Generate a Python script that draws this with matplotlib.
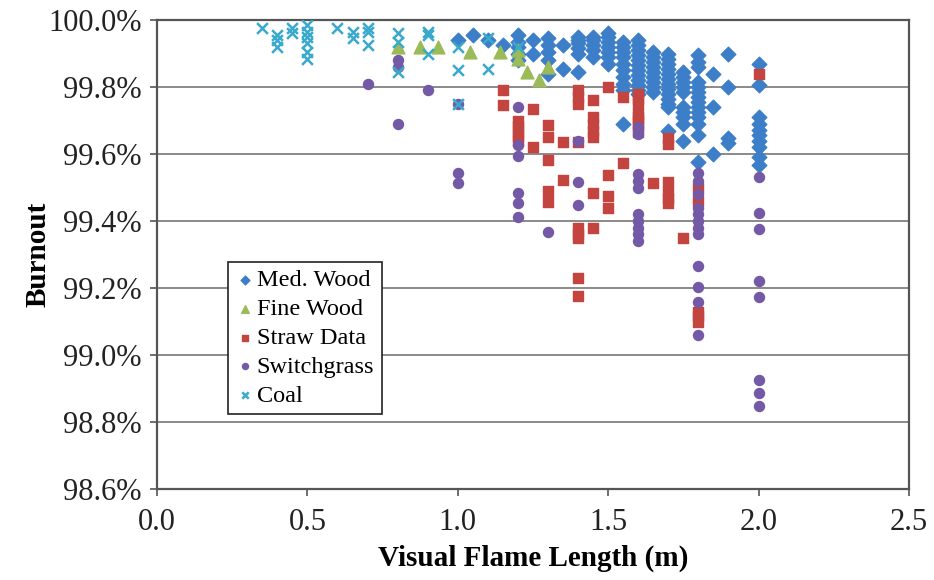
import matplotlib
matplotlib.use("Agg")
import matplotlib.pyplot as plt
from matplotlib.ticker import FuncFormatter, MultipleLocator

plt.rcParams['font.family'] = ['Liberation Serif', 'DejaVu Serif']

# flame length columns and burnout values (%)
med_wood_x = [1.0, 1.05, 1.1, 1.15, 1.2, 1.25, 1.3, 1.35, 1.4, 1.45, 1.5, 1.55,
              1.6, 1.65, 1.7, 1.75, 1.8, 1.85, 1.9, 2.0]
med_wood_y = [
    [99.94],
    [99.955],
    [99.94],
    [99.925],
    [99.955, 99.935, 99.92, 99.90, 99.88],
    [99.94, 99.90],
    [99.945, 99.925, 99.905, 99.88, 99.84],
    [99.925, 99.855],
    [99.95, 99.94, 99.93, 99.915, 99.90, 99.845],
    [99.95, 99.94, 99.925, 99.91, 99.89],
    [99.96, 99.95, 99.935, 99.92, 99.905, 99.89, 99.87],
    [99.935, 99.92, 99.905, 99.89, 99.87, 99.85, 99.83, 99.81, 99.79, 99.69],
    [99.94, 99.925, 99.91, 99.895, 99.88, 99.865, 99.85, 99.835, 99.82, 99.805, 99.79, 99.78],
    [99.905, 99.89, 99.875, 99.86, 99.845, 99.83, 99.815, 99.80, 99.785],
    [99.90, 99.885, 99.87, 99.855, 99.84, 99.825, 99.81, 99.795, 99.78, 99.765, 99.75, 99.74, 99.67],
    [99.845, 99.83, 99.815, 99.80, 99.785, 99.74, 99.725, 99.71, 99.69, 99.64],
    [99.895, 99.875, 99.86, 99.815, 99.80, 99.785, 99.77, 99.755, 99.74, 99.725, 99.71, 99.69, 99.657, 99.576],
    [99.84, 99.74, 99.60],
    [99.90, 99.80, 99.647, 99.633],
    [99.87, 99.805, 99.71, 99.69, 99.672, 99.657, 99.64, 99.62, 99.59, 99.567],
]

fine_wood_x = [0.8, 0.875, 0.935, 1.04, 1.14, 1.2, 1.23, 1.27, 1.3]
fine_wood_y = [[99.92], [99.92], [99.92], [99.905], [99.905], [99.91, 99.885],
               [99.845], [99.82], [99.86]]

straw_x = [1.15, 1.2, 1.25, 1.3, 1.35, 1.4, 1.45, 1.5, 1.55, 1.6, 1.65, 1.7, 1.75, 1.8, 2.0]
straw_y = [
    [99.79, 99.745],
    [99.70, 99.685, 99.67, 99.655, 99.64],
    [99.735, 99.62],
    [99.687, 99.65, 99.582, 99.49, 99.456],
    [99.636, 99.522],
    [99.79, 99.77, 99.75, 99.636, 99.38, 99.36, 99.35, 99.23, 99.176],
    [99.76, 99.71, 99.69, 99.67, 99.65, 99.484, 99.38],
    [99.80, 99.537, 99.475, 99.44],
    [99.77, 99.573],
    [99.78, 99.765, 99.75, 99.72, 99.71, 99.70, 99.685, 99.665],
    [99.513],
    [99.647, 99.63, 99.516, 99.487, 99.47, 99.454],
    [99.35],
    [99.50, 99.46, 99.128, 99.115, 99.10],
    [99.84],
]

switchgrass_x = [0.7, 0.8, 0.9, 1.0, 1.2, 1.3, 1.4, 1.6, 1.8, 2.0]
switchgrass_y = [
    [99.81],
    [99.88, 99.86, 99.69],
    [99.79],
    [99.75, 99.543, 99.513],
    [99.74, 99.627, 99.594, 99.484, 99.454, 99.412],
    [99.367],
    [99.64, 99.516, 99.448],
    [99.68, 99.66, 99.54, 99.52, 99.50, 99.42, 99.40, 99.38, 99.36, 99.34],
    [99.543, 99.52, 99.48, 99.44, 99.42, 99.40, 99.38, 99.36, 99.266, 99.203, 99.158, 99.06],
    [99.53, 99.424, 99.376, 99.22, 99.173, 98.925, 98.887, 98.848],
]

coal_x = [0.35, 0.4, 0.45, 0.5, 0.6, 0.65, 0.7, 0.8, 0.9, 1.0, 1.1, 1.2]
coal_y = [
    [99.976],
    [99.955, 99.94, 99.92],
    [99.975, 99.96],
    [99.985, 99.965, 99.95, 99.93, 99.905, 99.885],
    [99.975],
    [99.965, 99.945],
    [99.975, 99.965, 99.925],
    [99.96, 99.935, 99.845],
    [99.965, 99.955, 99.90],
    [99.92, 99.85, 99.75],
    [99.945, 99.855],
    [99.92],
]


def flatten(xs, ys):
    px, py = [], []
    for x, col in zip(xs, ys):
        for v in col:
            px.append(x)
            py.append(v)
    return px, py


fig = plt.figure(figsize=(9.34, 5.8), dpi=100)
ax = fig.add_axes([0.1681, 0.1569, 0.8051, 0.8086])

series = [
    ("Med. Wood", med_wood_x, med_wood_y, dict(marker='D', s=55, color='#3d7ec8')),
    ("Fine Wood", fine_wood_x, fine_wood_y, dict(marker='^', s=85, color='#9bbb59')),
    ("Straw Data", straw_x, straw_y, dict(marker='s', s=50, color='#c4453f')),
    ("Switchgrass", switchgrass_x, switchgrass_y, dict(marker='o', s=52, color='#7459a6')),
    ("Coal", coal_x, coal_y, dict(marker='x', s=60, color='#39a9cc', linewidths=1.8)),
]
for i, (name, xs, ys, style) in enumerate(series):
    px, py = flatten(xs, ys)
    ax.scatter(px, py, label=name, zorder=3 + i, **style)

ax.set_xlim(0, 2.5)
ax.set_ylim(98.6, 100.0)
ax.xaxis.set_major_locator(MultipleLocator(0.5))
ax.yaxis.set_major_locator(MultipleLocator(0.2))
ax.xaxis.set_major_formatter(FuncFormatter(lambda v, p: f"{v:.1f}"))
ax.yaxis.set_major_formatter(FuncFormatter(lambda v, p: f"{v:.1f}%"))
ax.grid(axis='y', color='#8a8a8a', linewidth=1.4, zorder=1)
ax.set_axisbelow(True)
for sp in ax.spines.values():
    sp.set_color('#555555')
    sp.set_linewidth(1.6)
ax.tick_params(axis='both', direction='out', length=5, width=1.2, color='#555555',
               labelsize=22, labelcolor='#222222')
ax.tick_params(axis='x', pad=9)
ax.tick_params(axis='y', pad=6)

ax.set_xlabel("Visual Flame Length (m)", fontsize=21, fontweight='bold', labelpad=5)
ax.set_ylabel("Burnout", fontsize=21, fontweight='bold')
ax.yaxis.set_label_coords(-0.14, 0.5)

leg = ax.legend(loc='lower left', bbox_to_anchor=(0.094, 0.16), fontsize=17.5,
                frameon=True, fancybox=False, framealpha=1, edgecolor='#222222',
                handletextpad=0.1, handlelength=0.8, borderpad=0.3,
                labelspacing=0.28, markerscale=0.6, borderaxespad=0)
leg.get_frame().set_linewidth(1.2)

fig.savefig("out.png", dpi=100)
